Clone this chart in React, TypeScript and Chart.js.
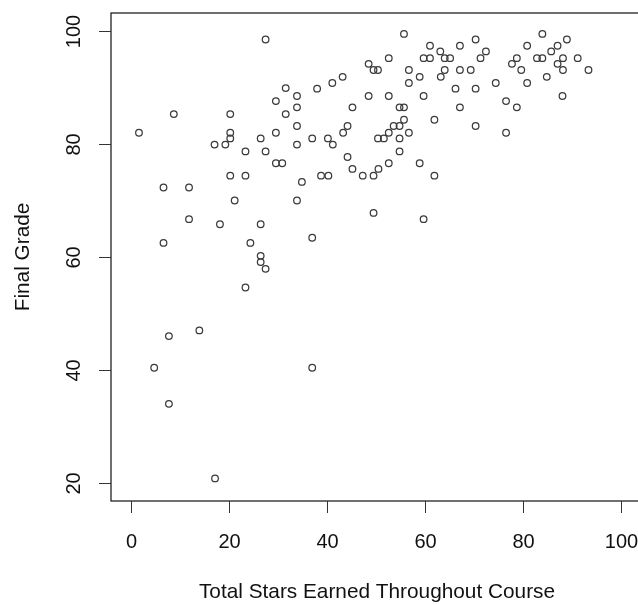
import React, { useEffect, useRef } from "react";
import { Chart, registerables } from "chart.js";

Chart.register(...registerables);

// Total stars earned (x) and final grade (y)
const starsEarned: number[] = [
  27.5, 31.6, 29.6, 31.6, 8.8, 20.3, 1.7, 20.3, 20.3, 26.5, 29.6, 17.1, 19.3, 23.4, 27.5, 29.6, 30.9, 20.3, 23.4, 6.7,
  11.9, 21.2, 11.9, 18.2, 26.5, 6.7, 24.4, 26.5,
  26.5, 27.5, 23.4, 14.0, 7.8, 4.8, 7.8, 17.2,
  37.0,
  55.7, 61.0, 63.1, 48.5, 52.6, 59.7, 61.0, 64.0, 65.1, 49.5, 50.4, 56.7, 64.0, 58.9, 63.2, 56.7, 43.2, 41.1, 38.0,
  33.9, 48.5, 52.6, 59.7, 33.9, 45.2, 54.8, 55.7, 55.7, 61.9, 33.9, 44.2, 53.6, 54.8, 43.3, 52.6, 56.7, 37.0, 40.2,
  41.2, 33.9, 50.4, 51.6, 54.8, 54.8, 44.2, 45.2, 47.3, 49.5, 50.5, 52.6, 58.9, 61.9, 38.8, 40.3, 34.9, 33.9, 49.5,
  59.7, 37.0,
  67.1, 67.1, 66.2, 67.1, 83.9, 70.3, 80.8, 88.9, 87.0, 72.4, 85.7, 71.3, 78.7, 82.8, 83.9, 88.1, 91.1, 77.7, 87.0,
  69.3, 79.6, 88.1, 93.3, 84.8, 74.4, 80.8, 70.3, 88.0, 76.5, 78.7, 70.3, 76.5,
];

const finalGrade: number[] = [
  98.5, 89.9, 87.6, 85.3, 85.3, 85.3, 82.0, 82.0, 81.0, 81.0, 82.0, 79.9, 79.9, 78.7, 78.7, 76.6, 76.6, 74.4, 74.4, 72.3,
  72.3, 70.0, 66.7, 65.8, 65.8, 62.5, 62.5, 60.2,
  59.1, 57.9, 54.6, 47.0, 46.0, 40.4, 34.0, 20.8,
  40.4,
  99.5, 97.4, 96.4, 94.2, 95.2, 95.2, 95.2, 95.2, 95.2, 93.1, 93.1, 93.1, 93.1, 91.9, 91.9, 90.8, 91.9, 90.8, 89.8,
  88.5, 88.5, 88.5, 88.5, 86.5, 86.5, 86.5, 86.5, 84.3, 84.3, 83.2, 83.2, 83.2, 83.2, 82.0, 82.0, 82.0, 81.0, 81.0,
  79.9, 79.9, 81.0, 81.0, 81.0, 78.7, 77.7, 75.6, 74.4, 74.4, 75.6, 76.6, 76.6, 74.4, 74.4, 74.4, 73.3, 70.0, 67.8,
  66.7, 63.4,
  97.4, 93.1, 89.8, 86.5, 99.5, 98.5, 97.4, 98.5, 97.4, 96.4, 96.4, 95.2, 95.2, 95.2, 95.2, 95.2, 95.2, 94.2, 94.2,
  93.1, 93.1, 93.1, 93.1, 91.9, 90.8, 90.8, 89.8, 88.5, 87.6, 86.5, 83.2, 82.0,
];

const xTicks: number[] = [0, 20, 40, 60, 80, 100];
const yTicks: number[] = [20, 40, 60, 80, 100];
const xTitle = "Total Stars Earned Throughout Course";
const yTitle = "Final Grade";

const FONT = "20px 'Liberation Sans', Arial, sans-serif";
const TITLE_FONT = "20.8px 'Liberation Sans', Arial, sans-serif";
const INK = "#111";

const rAxesPlugin = {
  id: "rAxes",
  afterDraw(chart: any) {
    const { ctx, chartArea } = chart;
    const xs = chart.scales.x;
    const ys = chart.scales.y;
    const { left, right, top, bottom } = chartArea;
    ctx.save();
    // box
    ctx.strokeStyle = "#222";
    ctx.lineWidth = 1.3;
    ctx.strokeRect(left, top, right - left, bottom - top);
    // ticks
    ctx.lineWidth = 1;
    ctx.strokeStyle = "#333";
    ctx.fillStyle = INK;
    ctx.font = FONT;
    ctx.textAlign = "center";
    ctx.textBaseline = "middle";
    xTicks.forEach((v) => {
      const px = Math.round(xs.getPixelForValue(v)) + 0.5;
      ctx.beginPath();
      ctx.moveTo(px, bottom);
      ctx.lineTo(px, bottom + 12);
      ctx.stroke();
      ctx.fillText(String(v), px, bottom + 41);
    });
    yTicks.forEach((v) => {
      const py = Math.round(ys.getPixelForValue(v)) + 0.5;
      ctx.beginPath();
      ctx.moveTo(left - 12, py);
      ctx.lineTo(left, py);
      ctx.stroke();
      ctx.save();
      ctx.translate(left - 37, py);
      ctx.rotate(-Math.PI / 2);
      ctx.fillText(String(v), 0, 0);
      ctx.restore();
    });
    // titles
    ctx.font = TITLE_FONT;
    ctx.fillText(xTitle, (left + right) / 2 + 1, bottom + 91);
    ctx.save();
    ctx.translate(23, (top + bottom) / 2);
    ctx.rotate(-Math.PI / 2);
    ctx.fillText(yTitle, 0, 0);
    ctx.restore();
    ctx.restore();
  },
};

export default function App() {
  const ref = useRef<HTMLCanvasElement | null>(null);
  useEffect(() => {
    if (!ref.current) return;
    const points = starsEarned.map((x, i) => ({ x, y: finalGrade[i] }));
    const chart = new Chart(ref.current, {
      type: "scatter",
      data: {
        datasets: [
          {
            data: points,
            pointStyle: "circle",
            pointRadius: 3.3,
            pointBorderWidth: 1.25,
            pointBorderColor: "#3a3a3a",
            pointBackgroundColor: "rgba(0,0,0,0)",
          },
        ],
      },
      options: {
        responsive: false,
        animation: false,
        devicePixelRatio: 1,
        layout: { padding: { left: 111, top: 13, right: 19, bottom: 104 } },
        plugins: { legend: { display: false }, tooltip: { enabled: false } },
        scales: {
          x: { type: "linear", min: -4, max: 104, display: false },
          y: { type: "linear", min: 16.8, max: 103.2, display: false },
        },
      },
      plugins: [rAxesPlugin],
    });
    return () => chart.destroy();
  }, []);
  return (
    <div style={{ position: "absolute", left: 0, top: 0, width: 638, height: 605, overflow: "hidden", background: "#fff" }}>
      <canvas ref={ref} width={660} height={605} style={{ display: "block", width: 660, height: 605 }} />
    </div>
  );
}
